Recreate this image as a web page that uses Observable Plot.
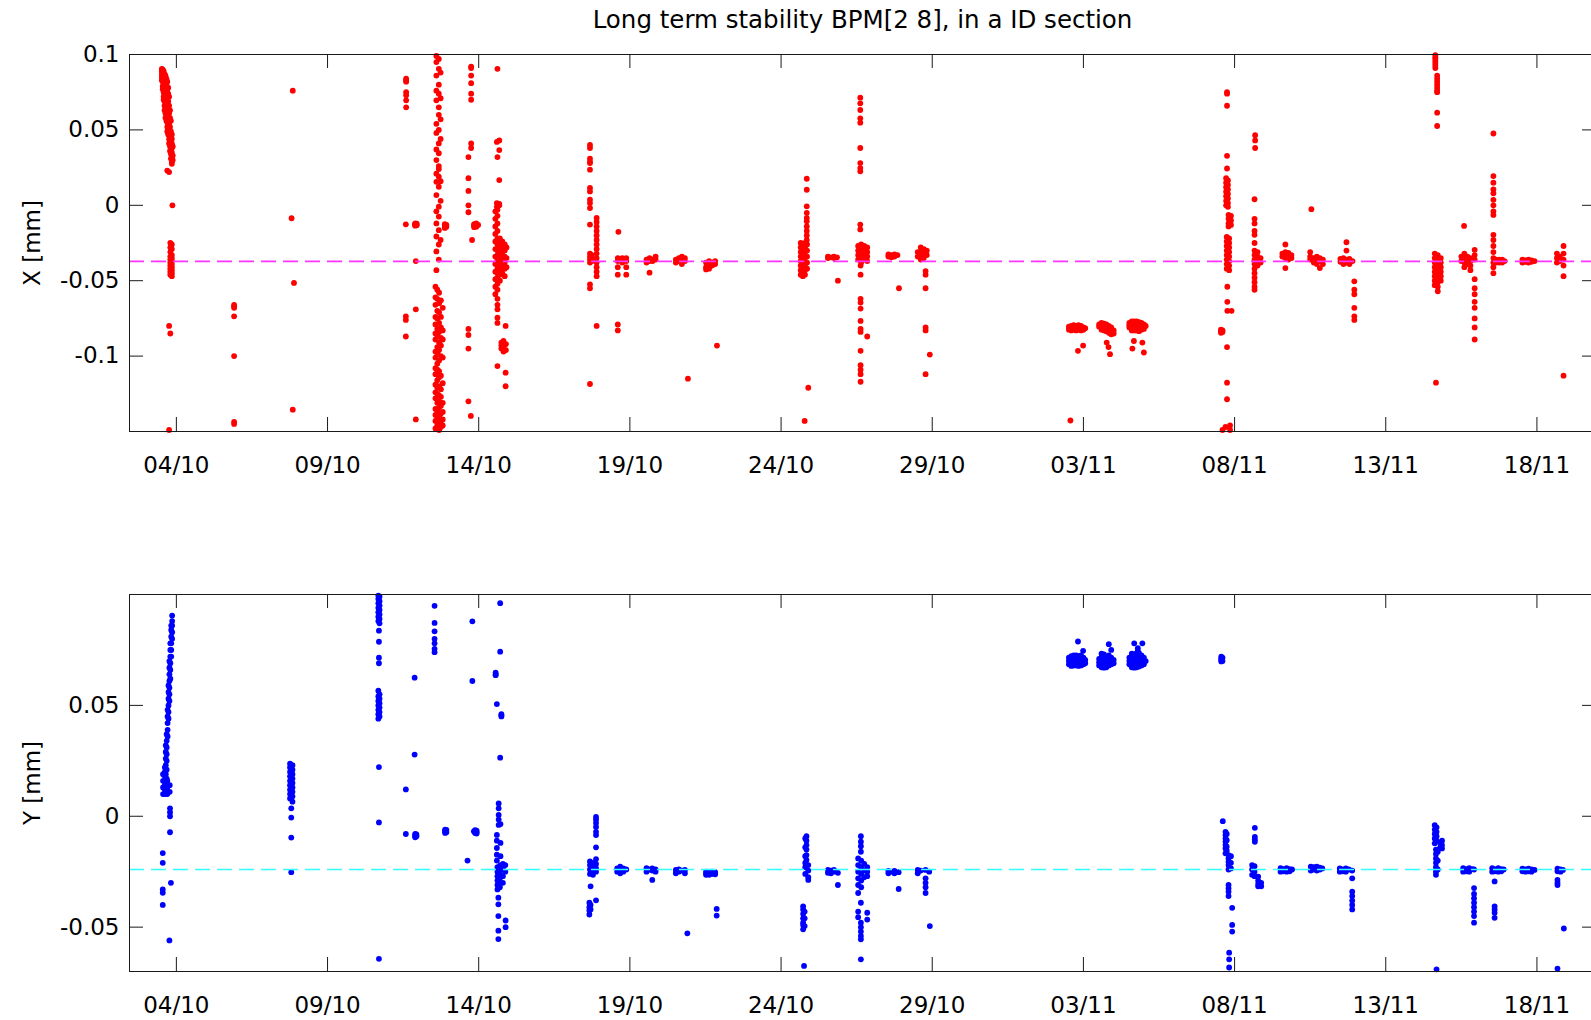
<!DOCTYPE html>
<html><head><meta charset="utf-8">
<script src="https://cdn.jsdelivr.net/npm/d3@7"></script>
<script src="https://cdn.jsdelivr.net/npm/@observablehq/plot@0.6"></script>
<style>
html,body{margin:0;padding:0;background:#fff;overflow:hidden;width:1591px;height:1020px}
#title{position:absolute;left:129px;width:1467px;top:0;height:40px;line-height:40px;text-align:center;font-family:"DejaVu Sans";font-size:24.5px;color:#000;white-space:nowrap}
#p1{position:absolute;left:0;top:40px}
#p2{position:absolute;left:0;top:540px}
</style></head><body>
<div id="title">Long term stability BPM[2 8], in a ID section</div>
<div id="p1"></div><div id="p2"></div>
<script>
// Time is given as a day number counted from 30 Sep (1 = 1 Oct, 32 = 1 Nov).
const titleText = "Long term stability BPM[2 8], in a ID section";
const year = 2008;
const xTickLabels = ["04/10","09/10","14/10","19/10","24/10","29/10","03/11","08/11","13/11","18/11"];
const xDomainDays = [2.45, 50.97];

const xTicks = [-0.1, -0.05, 0, 0.05, 0.1];
const xTickText = ["-0.1", "-0.05", "0", "0.05", "0.1"];
const xDomain = [-0.15, 0.1];
const xMean = -0.0372;

const yTicks = [-0.05, 0, 0.05];
const yTickText = ["-0.05", "0", "0.05"];
const yDomain = [-0.07, 0.1];
const yMean = -0.0240;

// X [mm] readings: [day, [values...]]
const xPoints = [
 [3.52,[0.0905,0.089,0.087,0.085,0.083]],
 [3.55,[0.090,0.088,0.086,0.082,0.079,0.077]],
 [3.58,[0.089,0.085,0.081,0.078,0.075,0.072,0.070]],
 [3.61,[0.087,0.083,0.080,0.076,0.073,0.069,0.066,0.063]],
 [3.64,[0.086,0.082,0.078,0.074,0.070,0.067,0.064,0.061,0.058]],
 [3.67,[0.084,0.080,0.075,0.071,0.068,0.063,0.059,0.056]],
 [3.70,[0.082,0.077,0.072,0.067,0.062,0.058,0.055,0.052,0.049,0.023]],
 [3.73,[0.078,0.074,0.069,0.064,0.060,0.056,0.053,0.050,0.047]],
 [3.76,[0.072,0.066,0.061,0.057,0.054,0.050,0.047,0.044,0.041,0.022]],
 [3.79,[0.063,0.058,0.052,0.048,0.045,0.042,0.039,0.036]],
 [3.82,[0.056,0.049,0.046,0.043,0.040,0.037,0.034,0.031]],
 [3.85,[0.047,0.044,0.041,0.038,0.035,0.032,0.029,0.0275]],
 [3.88,[0.039,0.033,0.030]],
 [3.87,[0.0]],
 [3.80,[-0.025,-0.028,-0.031,-0.034,-0.036,-0.038,-0.040,-0.042,-0.044,-0.046]],
 [3.85,[-0.026,-0.029,-0.033,-0.035,-0.037,-0.039,-0.041,-0.043,-0.045,-0.047]],
 [3.76,[-0.080,-0.149]],[3.80,[-0.085]],
 [5.91,[-0.066,-0.067,-0.068,-0.0736,-0.100,-0.1436,-0.145]],
 [7.85,[0.076,-0.1355]],[7.81,[-0.0086]],[7.89,[-0.0515]],
 [11.60,[0.084,0.083,0.082,0.075,0.073,0.0696,0.065]],
 [11.59,[-0.0126,-0.0736,-0.076,-0.087]],
 [11.90,[-0.012,-0.0125,-0.013,-0.0135,-0.0128]],[11.95,[-0.0122,-0.0132]],
 [11.92,[-0.037,-0.069,-0.142]],
 [12.60,[0.099,0.095,0.086,0.076,0.0696,0.054,0.048,0.037,0.030,0.021,0.0156,0.0068,-0.004,-0.012,-0.0207,-0.0306,-0.043]],
 [12.68,[0.097,0.0905,0.080,0.074,0.065,0.060,0.050,0.041,0.0345,0.026,0.024,0.019,0.0123,-0.0009,-0.0075,-0.0165,-0.026,-0.036]],
 [12.74,[0.088,0.071,0.057,0.044,0.016,0.003,-0.023]],
 [12.57,[-0.054,-0.061,-0.066,-0.074,-0.079,-0.085,-0.089,-0.097,-0.101,-0.108,-0.112,-0.119,-0.124,-0.128,-0.135,-0.139,-0.143,-0.148]],
 [12.63,[-0.056,-0.062,-0.070,-0.075,-0.082,-0.086,-0.094,-0.098,-0.105,-0.109,-0.116,-0.121,-0.125,-0.131,-0.136,-0.141,-0.146]],
 [12.69,[-0.058,-0.065,-0.071,-0.078,-0.084,-0.091,-0.096,-0.103,-0.110,-0.114,-0.120,-0.126,-0.130,-0.134,-0.140,-0.145,-0.149]],
 [12.75,[-0.063,-0.074,-0.081,-0.088,-0.093,-0.100,-0.113,-0.122,-0.127,-0.133,-0.138,-0.143,-0.147]],
 [12.81,[-0.068,-0.083,-0.089,-0.101,-0.118,-0.131,-0.137,-0.142,-0.146]],
 [12.88,[-0.0125,-0.013,-0.0137,-0.0145,-0.015]],[12.93,[-0.013,-0.0142]],
 [13.75,[0.092,0.091,0.086,0.081,0.074,0.070,0.041,0.038]],
 [13.66,[0.032,0.018,0.0095,0.0,-0.0046]],[13.78,[-0.023]],
 [13.85,[-0.0125,-0.013,-0.0138,-0.0145]],[13.92,[-0.012,-0.0132,-0.0142]],[13.98,[-0.013]],
 [13.66,[-0.082,-0.086,-0.095,-0.130]],[13.74,[-0.1397]],
 [14.62,[0.0905,0.032]],[14.68,[0.043,0.0366,0.0167,0.001,0.0]],[14.60,[0.042,0.0015,-0.001]],
 [14.55,[-0.004,-0.009,-0.014,-0.019,-0.024,-0.029,-0.034,-0.039,-0.044,-0.049,-0.054,-0.059]],
 [14.62,[-0.003,-0.007,-0.012,-0.017,-0.022,-0.026,-0.030,-0.033,-0.036,-0.039,-0.042,-0.045,-0.048,-0.052,-0.056,-0.062,-0.066,-0.069,-0.0745,-0.078,-0.1066]],
 [14.70,[-0.022,-0.025,-0.028,-0.031,-0.034,-0.037,-0.040,-0.043,-0.046,-0.050]],
 [14.78,[-0.024,-0.027,-0.030,-0.033,-0.036,-0.039,-0.042,-0.045]],
 [14.86,[-0.026,-0.030,-0.034,-0.038,-0.042,-0.047]],
 [14.92,[-0.028,-0.035,-0.041]],
 [14.89,[-0.080,-0.111,-0.120]],
 [14.75,[-0.091,-0.093,-0.095]],[14.82,[-0.090,-0.094,-0.097]],[14.90,[-0.092,-0.096]],
 [17.68,[0.040,0.038,0.031,0.029,0.028,0.0236,0.0115,0.0092,0.0037,0.0015,-0.0018,-0.0128,-0.032,-0.034,-0.036,-0.038,-0.0524,-0.055,-0.1185]],
 [17.74,[-0.033,-0.035,-0.037]],
 [17.90,[-0.0084,-0.011,-0.014,-0.017,-0.020,-0.023,-0.026,-0.029,-0.032,-0.035,-0.038,-0.041,-0.044,-0.047,-0.080]],
 [18.62,[-0.0176]],[18.60,[-0.035,-0.037,-0.041,-0.046,-0.079,-0.083]],[18.75,[-0.035,-0.038]],[18.88,[-0.035,-0.037,-0.041,-0.046]],
 [19.55,[-0.036,-0.038]],[19.65,[-0.035,-0.037,-0.0447]],[19.75,[-0.036,-0.037]],[19.85,[-0.034,-0.036]],
 [20.52,[-0.036,-0.038]],[20.62,[-0.035,-0.037]],[20.72,[-0.034,-0.036,-0.039]],[20.82,[-0.035,-0.037]],[20.92,[-0.115]],
 [21.52,[-0.038,-0.041,-0.0425]],[21.62,[-0.037,-0.040,-0.042]],[21.72,[-0.038,-0.040]],[21.82,[-0.037,-0.039]],[21.88,[-0.093]],
 [24.85,[0.0176,0.0103,-0.0007,-0.005,-0.0084,-0.0106,-0.014,-0.017,-0.020,-0.023]],
 [24.65,[-0.025,-0.028,-0.031,-0.034,-0.037,-0.040,-0.043,-0.046]],
 [24.72,[-0.026,-0.029,-0.032,-0.035,-0.038,-0.041,-0.044,-0.047]],
 [24.79,[-0.025,-0.028,-0.031,-0.034,-0.037,-0.040,-0.043,-0.046]],
 [24.86,[-0.026,-0.030,-0.034,-0.038,-0.042]],
 [24.90,[-0.121]],[24.78,[-0.143]],
 [25.55,[-0.034,-0.035]],[25.65,[-0.0345]],[25.75,[-0.034,-0.035]],[25.85,[-0.0345]],[25.88,[-0.050]],
 [26.62,[0.0714,0.0676,0.0632,0.0577,0.0548,0.038,0.028,0.0247,0.0225,-0.0128,-0.016]],
 [26.55,[-0.027,-0.030,-0.033,-0.036]],[26.65,[-0.026,-0.029,-0.032,-0.035,-0.038]],[26.75,[-0.027,-0.030,-0.033,-0.036]],[26.85,[-0.028,-0.031,-0.034,-0.037]],
 [26.63,[-0.040,-0.046,-0.062,-0.0645,-0.0685,-0.0767,-0.082,-0.084,-0.0965,-0.106,-0.109,-0.112,-0.117]],[26.85,[-0.087]],
 [27.55,[-0.0326,-0.034]],[27.65,[-0.033,-0.0345]],[27.75,[-0.0326,-0.034]],[27.85,[-0.033]],[27.90,[-0.055]],
 [28.52,[-0.031,-0.034]],[28.62,[-0.028,-0.031,-0.034,-0.036]],[28.72,[-0.029,-0.032,-0.035]],[28.82,[-0.030,-0.033]],
 [28.78,[-0.0436,-0.046,-0.055,-0.081,-0.083,-0.112]],[28.92,[-0.099]],
 [33.52,[-0.0805,-0.0825]],[33.60,[-0.080,-0.0815,-0.083]],[33.68,[-0.0795,-0.081,-0.0825]],[33.76,[-0.080,-0.0815,-0.083]],
 [33.84,[-0.0795,-0.081,-0.0825]],[33.92,[-0.080,-0.0815,-0.083]],[34.00,[-0.081,-0.0825]],[34.06,[-0.0815]],
 [33.82,[-0.0965]],[33.99,[-0.093]],[33.57,[-0.1427]],
 [34.52,[-0.079,-0.0805]],[34.60,[-0.078,-0.0795,-0.081,-0.0825]],[34.68,[-0.0785,-0.080,-0.0815,-0.083]],[34.76,[-0.079,-0.0805,-0.082,-0.0835]],
 [34.84,[-0.080,-0.0815,-0.083,-0.0845]],[34.92,[-0.081,-0.0825,-0.084,-0.0855]],[35.00,[-0.083,-0.085]],
 [34.77,[-0.091]],[34.83,[-0.094]],[34.88,[-0.0987]],
 [35.52,[-0.078,-0.0795,-0.081]],[35.60,[-0.077,-0.0785,-0.080,-0.0815,-0.083]],[35.68,[-0.077,-0.0785,-0.080,-0.0815,-0.083]],
 [35.76,[-0.077,-0.0785,-0.080,-0.0815,-0.083]],[35.84,[-0.0775,-0.079,-0.0805,-0.082,-0.0835]],[35.92,[-0.078,-0.0795,-0.081,-0.0825]],
 [36.00,[-0.079,-0.0805,-0.082]],[36.06,[-0.080]],
 [35.67,[-0.090]],[35.95,[-0.091]],[36.00,[-0.0976]],[35.62,[-0.095]],
 [38.75,[0.075,0.074,0.066,0.0328,0.0244,-0.094,-0.1176,-0.1286]],
 [38.72,[0.018,0.015,0.012,0.009,0.006,0.003,0.0]],[38.78,[0.0165,0.0135,0.0105,0.0075,0.0045,0.0015,-0.001]],
 [38.80,[-0.0064,-0.009,-0.012,-0.014]],[38.88,[-0.007,-0.010,-0.013]],
 [38.74,[-0.021,-0.024,-0.027,-0.030,-0.033,-0.036,-0.039,-0.042]],[38.82,[-0.022,-0.025,-0.028,-0.031,-0.034,-0.037,-0.040,-0.043]],
 [38.76,[-0.054,-0.064,-0.070]],[38.90,[-0.070]],
 [38.55,[-0.0825,-0.0835,-0.0845]],[38.60,[-0.083,-0.084,-0.149]],[38.70,[-0.147]],[38.85,[-0.146,-0.149]],
 [39.68,[0.0465,0.043,0.038]],[39.66,[0.004,-0.009,-0.012,-0.017,-0.0196,-0.025]],
 [39.66,[-0.030,-0.033,-0.036,-0.039,-0.042,-0.045,-0.048,-0.051,-0.054,-0.056]],[39.76,[-0.031,-0.034,-0.037,-0.040]],[39.86,[-0.035,-0.038]],
 [40.68,[-0.026,-0.0416]],[40.58,[-0.032,-0.034]],[40.68,[-0.031,-0.033,-0.035]],[40.78,[-0.0315,-0.0335,-0.036]],[40.88,[-0.033,-0.035]],
 [41.54,[-0.0026]],[41.50,[-0.031,-0.034,-0.036]],[41.62,[-0.035,-0.038]],[41.72,[-0.034,-0.036,-0.039]],[41.82,[-0.035,-0.037,-0.0416]],[41.92,[-0.036,-0.039]],
 [42.70,[-0.0245,-0.030]],[42.50,[-0.0355,-0.0375]],[42.60,[-0.035,-0.037,-0.039]],[42.70,[-0.036,-0.038]],[42.80,[-0.0355,-0.0375,-0.039]],[42.90,[-0.037]],
 [42.96,[-0.0504,-0.056,-0.059,-0.068,-0.0736,-0.076]],
 [45.64,[0.0995,0.098,0.097,0.0955,0.094,0.0925,0.091]],[45.70,[0.086,0.084,0.082,0.080,0.078,0.076,0.075,0.0614,0.0526]],
 [45.62,[-0.032,-0.035,-0.038,-0.041,-0.044,-0.047,-0.050,-0.053]],[45.72,[-0.033,-0.036,-0.039,-0.042,-0.045,-0.048,-0.051,-0.054,-0.057]],
 [45.82,[-0.035,-0.038,-0.041,-0.044,-0.047,-0.050]],[45.66,[-0.1176]],
 [46.59,[-0.0137]],[46.50,[-0.034,-0.037]],[46.60,[-0.032,-0.035,-0.038,-0.041]],[46.70,[-0.034,-0.036,-0.039]],[46.80,[-0.035,-0.037,-0.040,-0.043]],
 [46.94,[-0.0295,-0.033,-0.036,-0.049,-0.055,-0.059,-0.064,-0.068,-0.075,-0.081,-0.089]],
 [47.56,[0.0476,0.0194,0.015,0.0106,0.008,0.0036,0.0,-0.004,-0.0064,-0.0196,-0.023,-0.027,-0.031,-0.035,-0.038,-0.041,-0.045]],
 [47.65,[-0.036,-0.038]],[47.75,[-0.036,-0.038]],[47.85,[-0.036,-0.038]],[47.93,[-0.037]],
 [48.52,[-0.036,-0.038]],[48.62,[-0.0365,-0.0375]],[48.72,[-0.036,-0.038]],[48.82,[-0.0365,-0.0375]],[48.92,[-0.037]],
 [49.88,[-0.027,-0.032,-0.036,-0.040,-0.047,-0.113]],[49.66,[-0.032,-0.035,-0.038]],[49.76,[-0.034,-0.037]]
];

// Y [mm] readings: [day, [values...]]
const yPoints = [
 [3.56,[0.010,0.013,0.016,0.019]],
 [3.62,[0.010,0.012,0.014,0.016,0.018,0.020,0.022]],
 [3.65,[0.011,0.015,0.019,0.023,0.026,0.029,0.032]],
 [3.68,[0.017,0.021,0.025,0.028,0.031,0.034,0.037]],
 [3.70,[0.010,0.013,0.016]],
 [3.71,[0.036,0.039,0.042,0.045,0.048]],
 [3.74,[0.044,0.047,0.050,0.053,0.056,0.059]],
 [3.77,[0.052,0.055,0.058,0.061,0.064,0.067,0.070]],
 [3.78,[0.011,0.014]],
 [3.80,[0.062,0.066,0.069,0.072,0.075,0.078]],
 [3.83,[0.072,0.075,0.078,0.081,0.084,0.086]],
 [3.86,[0.080,0.083,0.086,0.088,0.0905]],
 [3.55,[-0.0166,-0.021,-0.033,-0.0345,-0.040]],
 [3.79,[0.0036,0.0018,0.0,-0.0072]],[3.82,[-0.030]],
 [3.77,[-0.056]],
 [7.76,[0.0237,0.022,0.020,0.018,0.016,0.014,0.012,0.010,0.008]],
 [7.84,[0.023,0.021,0.019,0.017,0.015,0.013,0.011,0.009,0.0066]],
 [7.80,[0.0036,-0.0006,-0.0096,-0.0252]],
 [10.68,[0.0995,0.098,0.096,0.094,0.092,0.090,0.088,0.0566,0.054,0.052,0.050,0.048,0.046,0.044]],
 [10.72,[0.099,0.097,0.095,0.093,0.091,0.089,0.087,0.055,0.053,0.051,0.049,0.047,0.045]],
 [10.70,[0.0837,0.0787,0.0715,0.069,0.0222,-0.0028,-0.0643]],
 [11.59,[0.0121,-0.008]],[11.88,[0.0625,0.0278]],
 [11.90,[-0.0080,-0.0085,-0.0090,-0.0095]],[11.94,[-0.0082,-0.0090]],
 [12.54,[0.0949,0.0872,0.0834,0.080,0.078,0.0755,0.074]],
 [12.89,[-0.006,-0.0065,-0.007,-0.0075]],[12.93,[-0.0062,-0.0072]],
 [13.79,[0.0879,0.061]],[13.63,[-0.020]],
 [13.88,[-0.0063,-0.007,-0.0075]],[13.93,[-0.0065,-0.0072,-0.0078]],[13.84,[-0.0068]],
 [14.71,[0.0961,0.0742,0.0264]],[14.56,[0.0648,0.0636,0.064]],[14.60,[0.0506]],[14.75,[0.046,0.0454,0.045]],
 [14.66,[0.0058,0.0036,0.0006,-0.0015,-0.0039]],
 [14.60,[-0.0084,-0.0110,-0.0143,-0.0173,-0.020]],[14.72,[-0.0035,-0.012,-0.018,-0.022]],
 [14.62,[-0.023,-0.025,-0.027,-0.029,-0.031,-0.033]],[14.70,[-0.024,-0.026,-0.028,-0.030,-0.032]],
 [14.80,[-0.0215,-0.024,-0.027,-0.030]],[14.88,[-0.022,-0.025]],
 [14.65,[-0.0367,-0.0397,-0.045,-0.0516,-0.0554]],[14.89,[-0.047,-0.050]],
 [17.88,[-0.0003,-0.0015,-0.003,-0.0048,-0.007,-0.0085,-0.014,-0.0193,-0.0215,-0.0235,-0.025,-0.0379]],
 [17.68,[-0.0204,-0.022,-0.024,-0.026]],[17.78,[-0.021,-0.023,-0.025,-0.0264]],
 [17.70,[-0.0316,-0.040,-0.042]],[17.66,[-0.039,-0.041,-0.0425,-0.0443]],
 [18.58,[-0.0235,-0.025]],[18.68,[-0.0227,-0.0242,-0.0257]],[18.78,[-0.0235,-0.025]],[18.88,[-0.024]],
 [19.55,[-0.0234,-0.025]],[19.65,[-0.024]],[19.74,[-0.0235,-0.0245,-0.0287]],[19.85,[-0.024,-0.025]],
 [20.52,[-0.0242,-0.0257]],[20.62,[-0.024,-0.025]],[20.72,[-0.0245]],[20.82,[-0.0242,-0.0257]],[20.90,[-0.0528]],
 [21.52,[-0.025,-0.0264,-0.0258]],[21.62,[-0.0255,-0.0264]],[21.72,[-0.025,-0.026]],[21.82,[-0.0252,-0.0262]],[21.87,[-0.0418,-0.0448]],
 [24.84,[-0.009,-0.011,-0.013,-0.015,-0.0175,-0.0197]],[24.80,[-0.010,-0.014,-0.018,-0.021,-0.023,-0.026]],[24.90,[-0.022,-0.0245,-0.0275,-0.0287]],
 [24.73,[-0.0406,-0.042,-0.044,-0.046,-0.048,-0.049,-0.051]],[24.78,[-0.043,-0.046,-0.0495]],[24.76,[-0.0675]],
 [25.55,[-0.0242,-0.0255]],[25.65,[-0.0245,-0.0257]],[25.75,[-0.0242,-0.025]],[25.88,[-0.031,-0.0255]],
 [26.64,[-0.009,-0.0115,-0.0135,-0.016,-0.039,-0.048,-0.050,-0.052,-0.054,-0.0555,-0.0645]],
 [26.55,[-0.019,-0.022,-0.025,-0.028,-0.031,-0.0346,-0.043,-0.0455]],[26.65,[-0.020,-0.023,-0.026,-0.029,-0.032]],
 [26.75,[-0.0215,-0.0245,-0.0275]],[26.85,[-0.023,-0.025,-0.027,-0.0435,-0.0466]],
 [27.55,[-0.0246,-0.0257]],[27.65,[-0.025]],[27.75,[-0.0246,-0.0257]],[27.89,[-0.0328,-0.0252]],
 [28.52,[-0.0242,-0.0257]],[28.62,[-0.0245]],[28.78,[-0.0242,-0.028,-0.030,-0.032,-0.0346]],[28.90,[-0.025]],[28.92,[-0.0495]],
 [33.52,[0.0685,0.070,0.0715]],[33.60,[0.0678,0.0693,0.0708,0.0722]],[33.68,[0.068,0.0695,0.071,0.0725]],[33.76,[0.068,0.0695,0.071,0.0725]],
 [33.84,[0.0678,0.0693,0.0708,0.0722]],[33.92,[0.068,0.0695,0.071,0.0725]],[34.00,[0.0685,0.070,0.0715]],[34.06,[0.069,0.0705]],
 [33.82,[0.0788]],[33.99,[0.0746]],
 [34.52,[0.068,0.0695,0.071]],[34.60,[0.0672,0.0688,0.0703,0.0718,0.0733]],[34.68,[0.067,0.0685,0.070,0.0715,0.073]],[34.76,[0.0672,0.0688,0.0703,0.0718]],
 [34.84,[0.068,0.0695,0.071,0.0725,0.0776]],[34.92,[0.0685,0.070,0.0715,0.075]],[35.00,[0.069,0.0705]],
 [35.52,[0.0685,0.070,0.0715]],[35.60,[0.0672,0.0688,0.0703,0.0718,0.0733]],[35.68,[0.067,0.0685,0.070,0.0715,0.073,0.078]],
 [35.76,[0.0672,0.0688,0.0703,0.0718,0.0736]],[35.84,[0.0675,0.069,0.0705,0.072,0.0735]],[35.92,[0.068,0.0695,0.071,0.0725]],
 [36.00,[0.0685,0.070,0.0715]],[36.06,[0.070]],[35.95,[0.078]],[35.80,[0.0758,0.0745]],
 [38.56,[0.0698,0.0705,0.0712,0.072]],[38.60,[0.070,0.0715]],
 [38.61,[-0.0022]],
 [38.70,[-0.007,-0.0085,-0.010,-0.0115,-0.013,-0.0145,-0.0167]],[38.74,[-0.008,-0.0108,-0.0137,-0.0155]],
 [38.80,[-0.0175,-0.019,-0.0205,-0.022,-0.024,-0.031,-0.0325,-0.034,-0.036]],[38.88,[-0.018,-0.021,-0.0235]],
 [38.92,[-0.0413,-0.049,-0.052]],[38.82,[-0.0615,-0.0645,-0.0682]],
 [39.67,[-0.0052,-0.0093,-0.0105,-0.0115]],[39.58,[-0.022,-0.024,-0.0264]],[39.66,[-0.0225,-0.025,-0.027]],
 [39.78,[-0.0272,-0.029,-0.0305,-0.0316]],[39.88,[-0.030,-0.0316]],
 [40.52,[-0.0234,-0.025]],[40.62,[-0.0238,-0.0248]],[40.72,[-0.0234,-0.025]],[40.82,[-0.0238,-0.0248]],[40.90,[-0.024]],
 [41.52,[-0.0227,-0.0245]],[41.62,[-0.023,-0.024]],[41.72,[-0.0227,-0.0245]],[41.82,[-0.0232,-0.024]],[41.90,[-0.0235]],
 [42.48,[-0.0235,-0.025]],[42.58,[-0.024,-0.0248]],[42.68,[-0.0235,-0.025]],[42.78,[-0.024]],
 [42.89,[-0.0245,-0.028,-0.034,-0.036,-0.038,-0.040,-0.042]],
 [45.62,[-0.004,-0.006,-0.008,-0.010,-0.0122]],[45.68,[-0.005,-0.007,-0.009,-0.011,-0.069]],
 [45.86,[-0.011,-0.013,-0.0145]],[45.80,[-0.012,-0.014]],
 [45.66,[-0.015,-0.017,-0.019,-0.021,-0.023,-0.025,-0.0264]],[45.72,[-0.016,-0.020,-0.024]],
 [46.56,[-0.0234,-0.025]],[46.66,[-0.0238,-0.0248]],[46.76,[-0.0234,-0.025]],[46.86,[-0.0238]],
 [46.92,[-0.024,-0.0324,-0.035,-0.037,-0.039,-0.041,-0.043,-0.045,-0.048]],
 [47.52,[-0.0234,-0.025]],[47.60,[-0.0238,-0.0248,-0.0294,-0.0406,-0.042,-0.0435,-0.0458]],[47.72,[-0.0234,-0.025]],[47.82,[-0.0238,-0.0248]],[47.90,[-0.024]],
 [48.52,[-0.0236,-0.0248]],[48.62,[-0.024,-0.025]],[48.72,[-0.0236,-0.0248]],[48.82,[-0.024,-0.025]],[48.92,[-0.0242]],
 [49.68,[-0.0236,-0.0248,-0.0287,-0.030,-0.031,-0.0687]],[49.78,[-0.024,-0.025]],[49.86,[-0.0242]],[49.89,[-0.0506]]
];

const W = 1591, FL = 129, FR = 1596, TICK = 14;
const base = Date.UTC(year, 8, 30);
const dayToDate = d => new Date(base + d * 864e5);
const parseTick = d3.utcParse("%d/%m/%Y");
const xTickDates = xTickLabels.map(s => parseTick(s + "/" + year));
const fmtDay = d3.utcFormat("%d/%m");

function panel(points, o) {
  const data = points.flatMap(([d, vs]) => vs.map(v => ({t: dayToDate(d), v})));
  const innerW = FR - FL, innerH = o.height - o.mt - o.mb;
  const yfmt = v => o.yLabels[o.yTicks.indexOf(v)];
  const ink = "#1a1a1a";
  return Plot.plot({
    width: W, height: o.height,
    marginLeft: FL, marginRight: W - FR, marginTop: o.mt, marginBottom: o.mb,
    style: {fontFamily: "DejaVu Sans", fontSize: "23px", color: "#000", background: "transparent", overflow: "visible"},
    x: {type: "utc", domain: xDomainDays.map(dayToDate)},
    y: {domain: o.yDomain},
    marks: [
      Plot.dot(data, {x: "t", y: "v", r: 2.9, fill: o.color, stroke: "none"}),
      Plot.ruleY([o.mean], {stroke: o.meanColor, strokeWidth: 1.7, strokeDasharray: "15,7"}),
      Plot.frame({stroke: ink, strokeWidth: 1}),
      Plot.gridX(xTickDates, {stroke: ink, strokeOpacity: 1, insetBottom: innerH - TICK}),
      Plot.gridX(xTickDates, {stroke: ink, strokeOpacity: 1, insetTop: innerH - TICK}),
      Plot.gridY(o.yTicks, {stroke: ink, strokeOpacity: 1, insetRight: innerW - TICK}),
      Plot.gridY(o.yTicks, {stroke: ink, strokeOpacity: 1, insetLeft: innerW - TICK}),
      Plot.axisX(xTickDates, {tickSize: 0, tickPadding: 25, tickFormat: fmtDay, label: null, fontSize: 23}),
      Plot.axisY(o.yTicks, {tickSize: 0, tickPadding: 10, tickFormat: yfmt, label: null, fontSize: 23}),
      Plot.text([o.label], {frameAnchor: "left", rotate: -90, dx: -97, fontSize: 23, textAnchor: "middle", lineAnchor: "middle", fill: "#000"})
    ]
  });
}

document.getElementById("title").textContent = titleText;
document.getElementById("p1").append(panel(xPoints, {
  height: 500, mt: 14, mb: 109, color: "#ff0000", mean: xMean, meanColor: "#ff33ff",
  yDomain: xDomain, yTicks: xTicks, yLabels: xTickText, label: "X [mm]"
}));
document.getElementById("p2").append(panel(yPoints, {
  height: 480, mt: 54, mb: 49, color: "#0000ff", mean: yMean, meanColor: "#33ffff",
  yDomain: yDomain, yTicks: yTicks, yLabels: yTickText, label: "Y [mm]"
}));
</script></body></html>
